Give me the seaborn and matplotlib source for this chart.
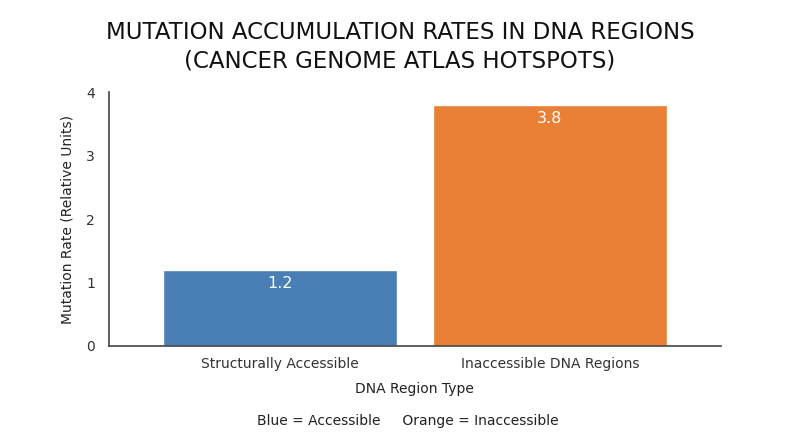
import matplotlib
matplotlib.use("Agg")
import matplotlib.pyplot as plt
import seaborn as sns
import pandas as pd

# 데이터
regions = ["Structurally Accessible", "Inaccessible DNA Regions"]
rates = [1.2, 3.8]
bar_colors = ["#4a7fb5", "#e98035"]

df = pd.DataFrame({"region": regions, "rate": rates})

sns.set_style("white")
plt.rcParams["font.family"] = ["DejaVu Sans"]

fig = plt.figure(figsize=(8, 4.47), dpi=100)
ax = fig.add_axes([0.136, 0.226, 0.765, 0.568])

sns.barplot(data=df, x="region", y="rate", hue="region", palette=bar_colors,
            width=0.867, legend=False, ax=ax, saturation=1)

# 막대 안쪽 값 표시
for i, v in enumerate(rates):
    ax.text(i, v - 0.22, f"{v}", ha="center", va="center",
            color="white", fontsize=11.5)

ax.set_xlim(-0.633, 1.633)
ax.set_ylim(0, 4)
ax.set_yticks([0, 1, 2, 3, 4])
ax.tick_params(axis="both", length=0, labelsize=10, colors="#333333", pad=8)
ax.tick_params(axis="y", pad=10)

for s in ["top", "right"]:
    ax.spines[s].set_visible(False)
for s in ["left", "bottom"]:
    ax.spines[s].set_color("#444444")
    ax.spines[s].set_linewidth(1.2)

ax.set_xlabel("DNA Region Type", fontsize=10, color="#222222", labelpad=8)
ax.set_ylabel("Mutation Rate (Relative Units)", fontsize=10, color="#222222", labelpad=8)

fig.text(0.5, 0.895, "MUTATION ACCUMULATION RATES IN DNA REGIONS\n(CANCER GENOME ATLAS HOTSPOTS)",
         ha="center", va="center", fontsize=16.5, color="#111111", linespacing=1.3)

fig.text(0.51, 0.058, "Blue = Accessible     Orange = Inaccessible",
         ha="center", va="center", fontsize=10, color="#222222")

fig.savefig("out.png", dpi=100)
